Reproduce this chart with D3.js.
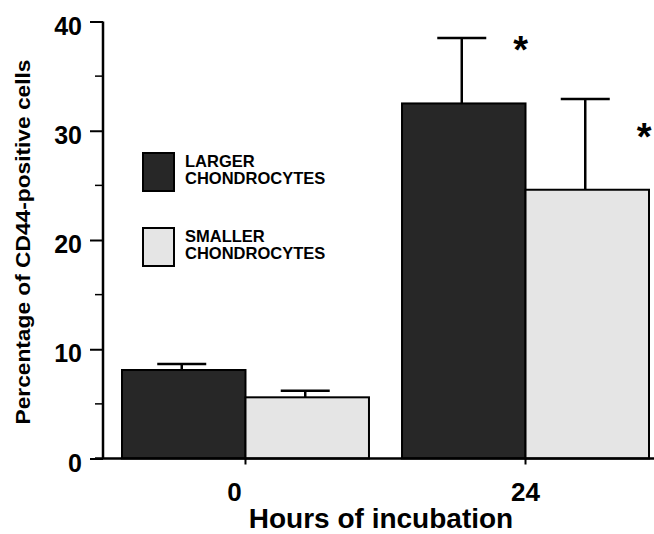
<!DOCTYPE html>
<html>
<head>
<meta charset="utf-8">
<script src="https://cdn.jsdelivr.net/npm/d3@7"></script>
<style>
  body { margin: 0; background: #fff; overflow: hidden; }
  text { font-family: "Liberation Sans", Arial, Helvetica, sans-serif; font-weight: bold; fill: #000; }
</style>
</head>
<body>
<div id="chart"></div>
<script>
// data
const hours = ['0', '24'];
const groups = ['LARGER CHONDROCYTES', 'SMALLER CHONDROCYTES'];
const larger = [8.1, 32.5];
const smaller = [5.6, 24.6];
const largerErr = [0.55, 6.0];
const smallerErr = [0.6, 8.3];
const yTicks = [0, 10, 20, 30, 40];
const yMinor = [5, 15, 25, 35];
const starred = [false, true];

const width = 654, height = 534;
const fills = ['#272727', '#e5e5e5'];

let svg = d3.select('#chart').append('svg').attr('width', width).attr('height', height);

let y = d3.scaleLinear().domain([0, 40]).range([458.5, 21.5]);
let x0 = d3.scaleBand().domain(hours).range([122, 649]).paddingInner(0.118).paddingOuter(0);
let x1 = d3.scaleBand().domain(groups).range([0, x0.bandwidth()]);

let data = [];
hours.forEach((h, i) => {
    data.push({ hour: h, group: groups[0], v: larger[i], e: largerErr[i], star: starred[i] });
    data.push({ hour: h, group: groups[1], v: smaller[i], e: smallerErr[i], star: starred[i] });
});
let cx = (d) => x0(d.hour) + x1(d.group) + x1.bandwidth() / 2;

// bars
svg.append('g').selectAll('rect').data(data).enter().append('rect')
    .attr('x', (d) => x0(d.hour) + x1(d.group))
    .attr('y', (d) => y(d.v))
    .attr('width', x1.bandwidth())
    .attr('height', (d) => y(0) - y(d.v))
    .style('fill', (d) => fills[groups.indexOf(d.group)])
    .style('stroke', '#000').style('stroke-width', 2);

// error bars (upper only)
let capW = 49;
let err = svg.append('g').selectAll('g').data(data).enter().append('g')
    .attr('transform', (d) => 'translate(' + (cx(d) - 2) + ',0)');
err.append('line').attr('x1', 0).attr('x2', 0)
    .attr('y1', (d) => y(d.v)).attr('y2', (d) => y(d.v + d.e))
    .style('stroke', '#000').style('stroke-width', 2.5);
err.append('line').attr('x1', -capW / 2).attr('x2', capW / 2)
    .attr('y1', (d) => y(d.v + d.e)).attr('y2', (d) => y(d.v + d.e))
    .style('stroke', '#000').style('stroke-width', 2.5);

// significance stars, placed above the bar tops
svg.append('g').selectAll('text').data(data.filter((d) => d.star)).enter().append('text')
    .attr('x', (d) => cx(d) + 57)
    .attr('y', (d) => y(d.v) - 40)
    .attr('text-anchor', 'middle')
    .style('font-size', '38px')
    .text('*');

// y axis
let yAxis = d3.axisLeft(y).tickValues(yTicks).tickSize(13).tickPadding(8);
let gy = svg.append('g').attr('transform', 'translate(103,0)').call(yAxis);
gy.select('.domain').attr('d', 'M0,' + y(40) + 'V' + y(0)).style('stroke-width', 2.5);
gy.selectAll('.tick line').style('stroke-width', 2);
gy.selectAll('.tick text').style('font-size', '25px').style('font-family', '"Liberation Sans", Arial, sans-serif')
    .style('font-weight', 'bold').attr('dy', '0.5em');
svg.append('g').attr('transform', 'translate(103,0)').selectAll('line').data(yMinor).enter().append('line')
    .attr('x1', -8).attr('x2', 0).attr('y1', (d) => y(d)).attr('y2', (d) => y(d))
    .style('stroke', '#000').style('stroke-width', 1.5);

// x axis
let xAxis = d3.axisBottom(x0).tickSize(6).tickPadding(18);
let gx = svg.append('g').attr('transform', 'translate(0,' + y(0) + ')').call(xAxis);
gx.select('.domain').attr('d', 'M95,0H654').style('stroke-width', 2.5);
gx.selectAll('.tick line').style('stroke-width', 2);
gx.selectAll('.tick text').style('font-size', '26px').style('font-family', '"Liberation Sans", Arial, sans-serif')
    .style('font-weight', 'bold')
    .attr('dx', (d, i) => i === 0 ? -11 : 0);

// axis titles
svg.append('text').attr('x', 381).attr('y', 528).attr('text-anchor', 'middle')
    .style('font-size', '28px').text('Hours of incubation');
svg.append('text').attr('transform', 'translate(30,242) rotate(-90)').attr('text-anchor', 'middle')
    .attr('textLength', 365).attr('lengthAdjust', 'spacingAndGlyphs')
    .style('font-size', '20px').text('Percentage of CD44-positive cells');

// legend
let legend = svg.append('g').selectAll('g').data(groups).enter().append('g')
    .attr('transform', (d, i) => 'translate(143,' + (153 + i * 75) + ')');
legend.append('rect').attr('width', 31).attr('height', 38)
    .style('fill', (d, i) => fills[i]).style('stroke', '#000').style('stroke-width', 2);
legend.append('text').attr('x', 42).attr('y', 14).style('font-size', '16.5px').text((d) => d.split(' ')[0]);
legend.append('text').attr('x', 42).attr('y', 30.5).style('font-size', '16.5px').text((d) => d.split(' ')[1]);
</script>
</body>
</html>
